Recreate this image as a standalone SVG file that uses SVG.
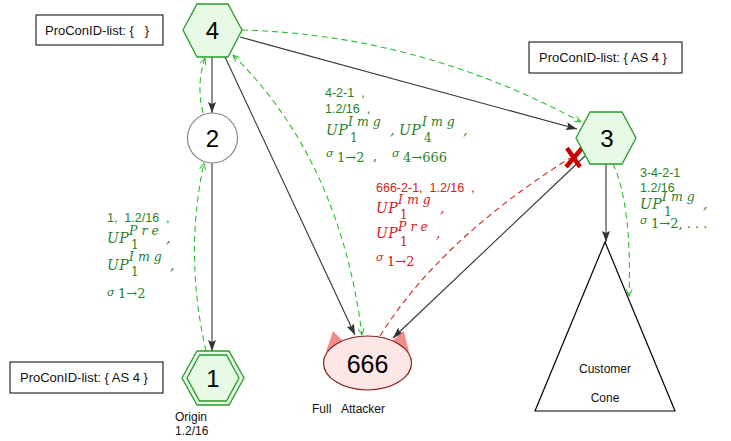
<svg xmlns="http://www.w3.org/2000/svg" width="731" height="441" viewBox="0 0 731 441">
<style>
text{white-space:pre}
.box{fill:#fff;stroke:#000;stroke-width:1}
.bt{font-family:"Liberation Sans",Arial,sans-serif;font-size:13px;fill:#111}
.hex{fill:#e6fae6;stroke:#2a9a2a;stroke-width:1.3}
.num{font-family:"Liberation Sans",Arial,sans-serif;font-size:24px;fill:#000;text-anchor:middle}
.lbl{font-family:"Liberation Sans",Arial,sans-serif;font-size:12px;fill:#111}
.e{fill:none;stroke:#333;stroke-width:1.1;marker-end:url(#ah)}
.gd{fill:none;stroke:#2bbf2b;stroke-width:1.1;stroke-dasharray:6 4;marker-end:url(#gch)}
.rd{fill:none;stroke:#d42020;stroke-width:1.1;stroke-dasharray:6 4}
.g{fill:#2a7f2a}
.r{fill:#d42020}
.s{font-family:"Liberation Sans",Arial,sans-serif;font-size:12.5px}
.m{font-family:"DejaVu Serif","Liberation Serif",serif;font-style:italic;font-size:14px;letter-spacing:0.5px}
.sup{font-family:"DejaVu Serif","Liberation Serif",serif;font-style:italic;font-size:12.5px;letter-spacing:4px}
.sub{font-family:"DejaVu Serif","Liberation Serif",serif;font-style:normal;font-size:12px;letter-spacing:0}
.sig{font-family:"DejaVu Serif","Liberation Serif",serif;font-style:italic;font-size:11px}
.ix{font-family:"DejaVu Serif","Liberation Serif",serif;font-style:normal;font-size:13px}
</style>
<defs>
<marker id="ah" viewBox="0 0 11 8" refX="11" refY="4" markerWidth="11" markerHeight="8" markerUnits="userSpaceOnUse" orient="auto"><path d="M0,0 L11,4 L0,8 L2,4 z" fill="#333"/></marker>
<marker id="gch" viewBox="0 0 8 8" refX="7.5" refY="4" markerWidth="8" markerHeight="8" markerUnits="userSpaceOnUse" orient="auto-start-reverse"><path d="M1,1 L7.5,4 L1,7" fill="none" stroke="#2bbf2b" stroke-width="1"/></marker>
</defs>
<rect width="731" height="441" fill="#fff"/>

<g id="connectors">
<path class="e" d="M212,57 L212,113"/>
<path class="e" d="M212,163 L212,351"/>
<path class="e" d="M225,57 L355,335"/>
<path class="e" d="M240,37 L577,129"/>
<path class="e" d="M585,156 L393,338"/>
<path class="e" d="M606,164 L606,242"/>
<path class="gd" d="M242,30 Q420,35 581,122"/>
<path class="gd" style="marker-start:url(#gch)" d="M233,55 Q340,160 362,335"/>
<path class="gd" d="M206,351 Q184,255 204,163"/>
<path class="gd" d="M203,113 Q196,85 205,58"/>
<path class="gd" d="M613,164 Q632,205 629,296"/>
<path class="rd" d="M380,336 Q440,240 570,158"/>
<g id="cross" stroke="#c80000" stroke-width="4.5" stroke-linecap="butt">
<path d="M567,148 L580,167"/>
<path d="M583,147 L566,167"/>
</g>
</g>

<g id="box-top-left">
<rect class="box" x="36" y="15" width="127" height="30"/>
<text class="bt" x="45" y="35">ProConID-list: {   }</text>
</g>
<g id="box-top-right">
<rect class="box" x="529" y="42" width="153" height="31"/>
<text class="bt" x="539" y="62">ProConID-list: { AS 4 }</text>
</g>
<g id="box-bottom-left">
<rect class="box" x="10" y="362" width="153" height="31"/>
<text class="bt" x="20" y="382">ProConID-list: { AS 4 }</text>
</g>

<g id="node4">
<polygon class="hex" points="183,30 197,4 228,4 242,30 228,57 197,57"/>
<text class="num" x="212.5" y="39">4</text>
</g>
<g id="node2">
<circle cx="212.5" cy="138" r="25" fill="#fff" stroke="#888" stroke-width="1.2"/>
<text class="num" x="212.5" y="147">2</text>
</g>
<g id="node1">
<polygon class="hex" points="182,378 197,351 229,351 244,378 229,405 197,405"/>
<polygon class="hex" points="187,378 199.5,355 226.5,355 239,378 226.5,401 199.5,401"/>
<text class="num" x="213" y="387">1</text>
<text class="lbl" x="175" y="421">Origin</text>
<text class="lbl" x="175" y="435">1.2/16</text>
</g>
<g id="node3">
<polygon class="hex" points="576,138 590,112 622,112 636,138 622,164 590,164"/>
<text class="num" x="607" y="147">3</text>
</g>
<g id="node666">
<polygon points="326,352 333,331 344,342" fill="#f28b8b"/>
<polygon points="391,342 404,331 409,352" fill="#f28b8b"/>
<ellipse cx="367.5" cy="363" rx="44" ry="27" fill="#fde6e6" stroke="#8b1a1a" stroke-width="1.2"/>
<text class="num" x="367.5" y="373" style="font-size:25px">666</text>
<text class="lbl" x="312" y="413">Full</text>
<text class="lbl" x="341" y="413">Attacker</text>
</g>
<g id="cone">
<polygon points="605,242 535,411 675,411" fill="#fff" stroke="#000" stroke-width="1.2"/>
<text class="lbl" x="605" y="373" text-anchor="middle">Customer</text>
<text class="lbl" x="605" y="402" text-anchor="middle">Cone</text>
</g>

<g id="label-4-666" class="g">
<text class="s" x="325" y="97">4-2-1  ,</text>
<text class="s" x="325" y="113">1.2/16  ,</text>
<text class="m" x="326" y="135">UP<tspan class="sup" x="348" dy="-9">Img</tspan><tspan class="sub" x="350" dy="16">1</tspan><tspan x="390" dy="-7">,</tspan><tspan x="399">UP</tspan><tspan class="sup" x="422" dy="-9">Img</tspan><tspan class="sub" x="424" dy="16">4</tspan><tspan x="463" dy="-7">,</tspan></text>
<text class="sig" x="326" y="157">σ<tspan class="ix" x="337" dy="5">1→2</tspan><tspan class="ix" x="373" dy="-2">,</tspan><tspan x="392" dy="-3">σ</tspan><tspan class="ix" x="403" dy="5">4→666</tspan></text>
</g>

<g id="label-1-2" class="g">
<text class="s" x="107" y="222">1,  1.2/16  ,</text>
<text class="m" x="107" y="243">UP<tspan class="sup" x="129" dy="-8">Pre</tspan><tspan class="sub" x="131" dy="14">1</tspan><tspan x="166" dy="-6">,</tspan></text>
<text class="m" x="107" y="270">UP<tspan class="sup" x="129" dy="-9">Img</tspan><tspan class="sub" x="131" dy="15">1</tspan><tspan x="170" dy="-6">,</tspan></text>
<text class="sig" x="107" y="296">σ<tspan class="ix" x="118" dy="2">1→2</tspan></text>
</g>

<g id="label-666-3" class="r">
<text class="s" x="376" y="192">666-2-1,  1.2/16  ,</text>
<text class="m" x="376" y="213">UP<tspan class="sup" x="398" dy="-9">Img</tspan><tspan class="sub" x="400" dy="15">1</tspan><tspan x="440" dy="-6">,</tspan></text>
<text class="m" x="376" y="238">UP<tspan class="sup" x="398" dy="-7">Pre</tspan><tspan class="sub" x="400" dy="15">1</tspan><tspan x="436" dy="-8">,</tspan></text>
<text class="sig" x="376" y="261">σ<tspan class="ix" x="387" dy="5">1→2</tspan></text>
</g>

<g id="label-3-cone" class="g">
<text class="s" x="640" y="177">3-4-2-1</text>
<text class="s" x="640" y="192">1.2/16</text>
<text class="m" x="640" y="209">UP<tspan class="sup" x="662" dy="-8">Img</tspan><tspan class="sub" x="664" dy="15">1</tspan><tspan x="703" dy="-7">,</tspan></text>
<text class="sig" x="640" y="224">σ<tspan class="ix" x="651" dy="4">1→2, . . .</tspan></text>
</g>
</svg>
